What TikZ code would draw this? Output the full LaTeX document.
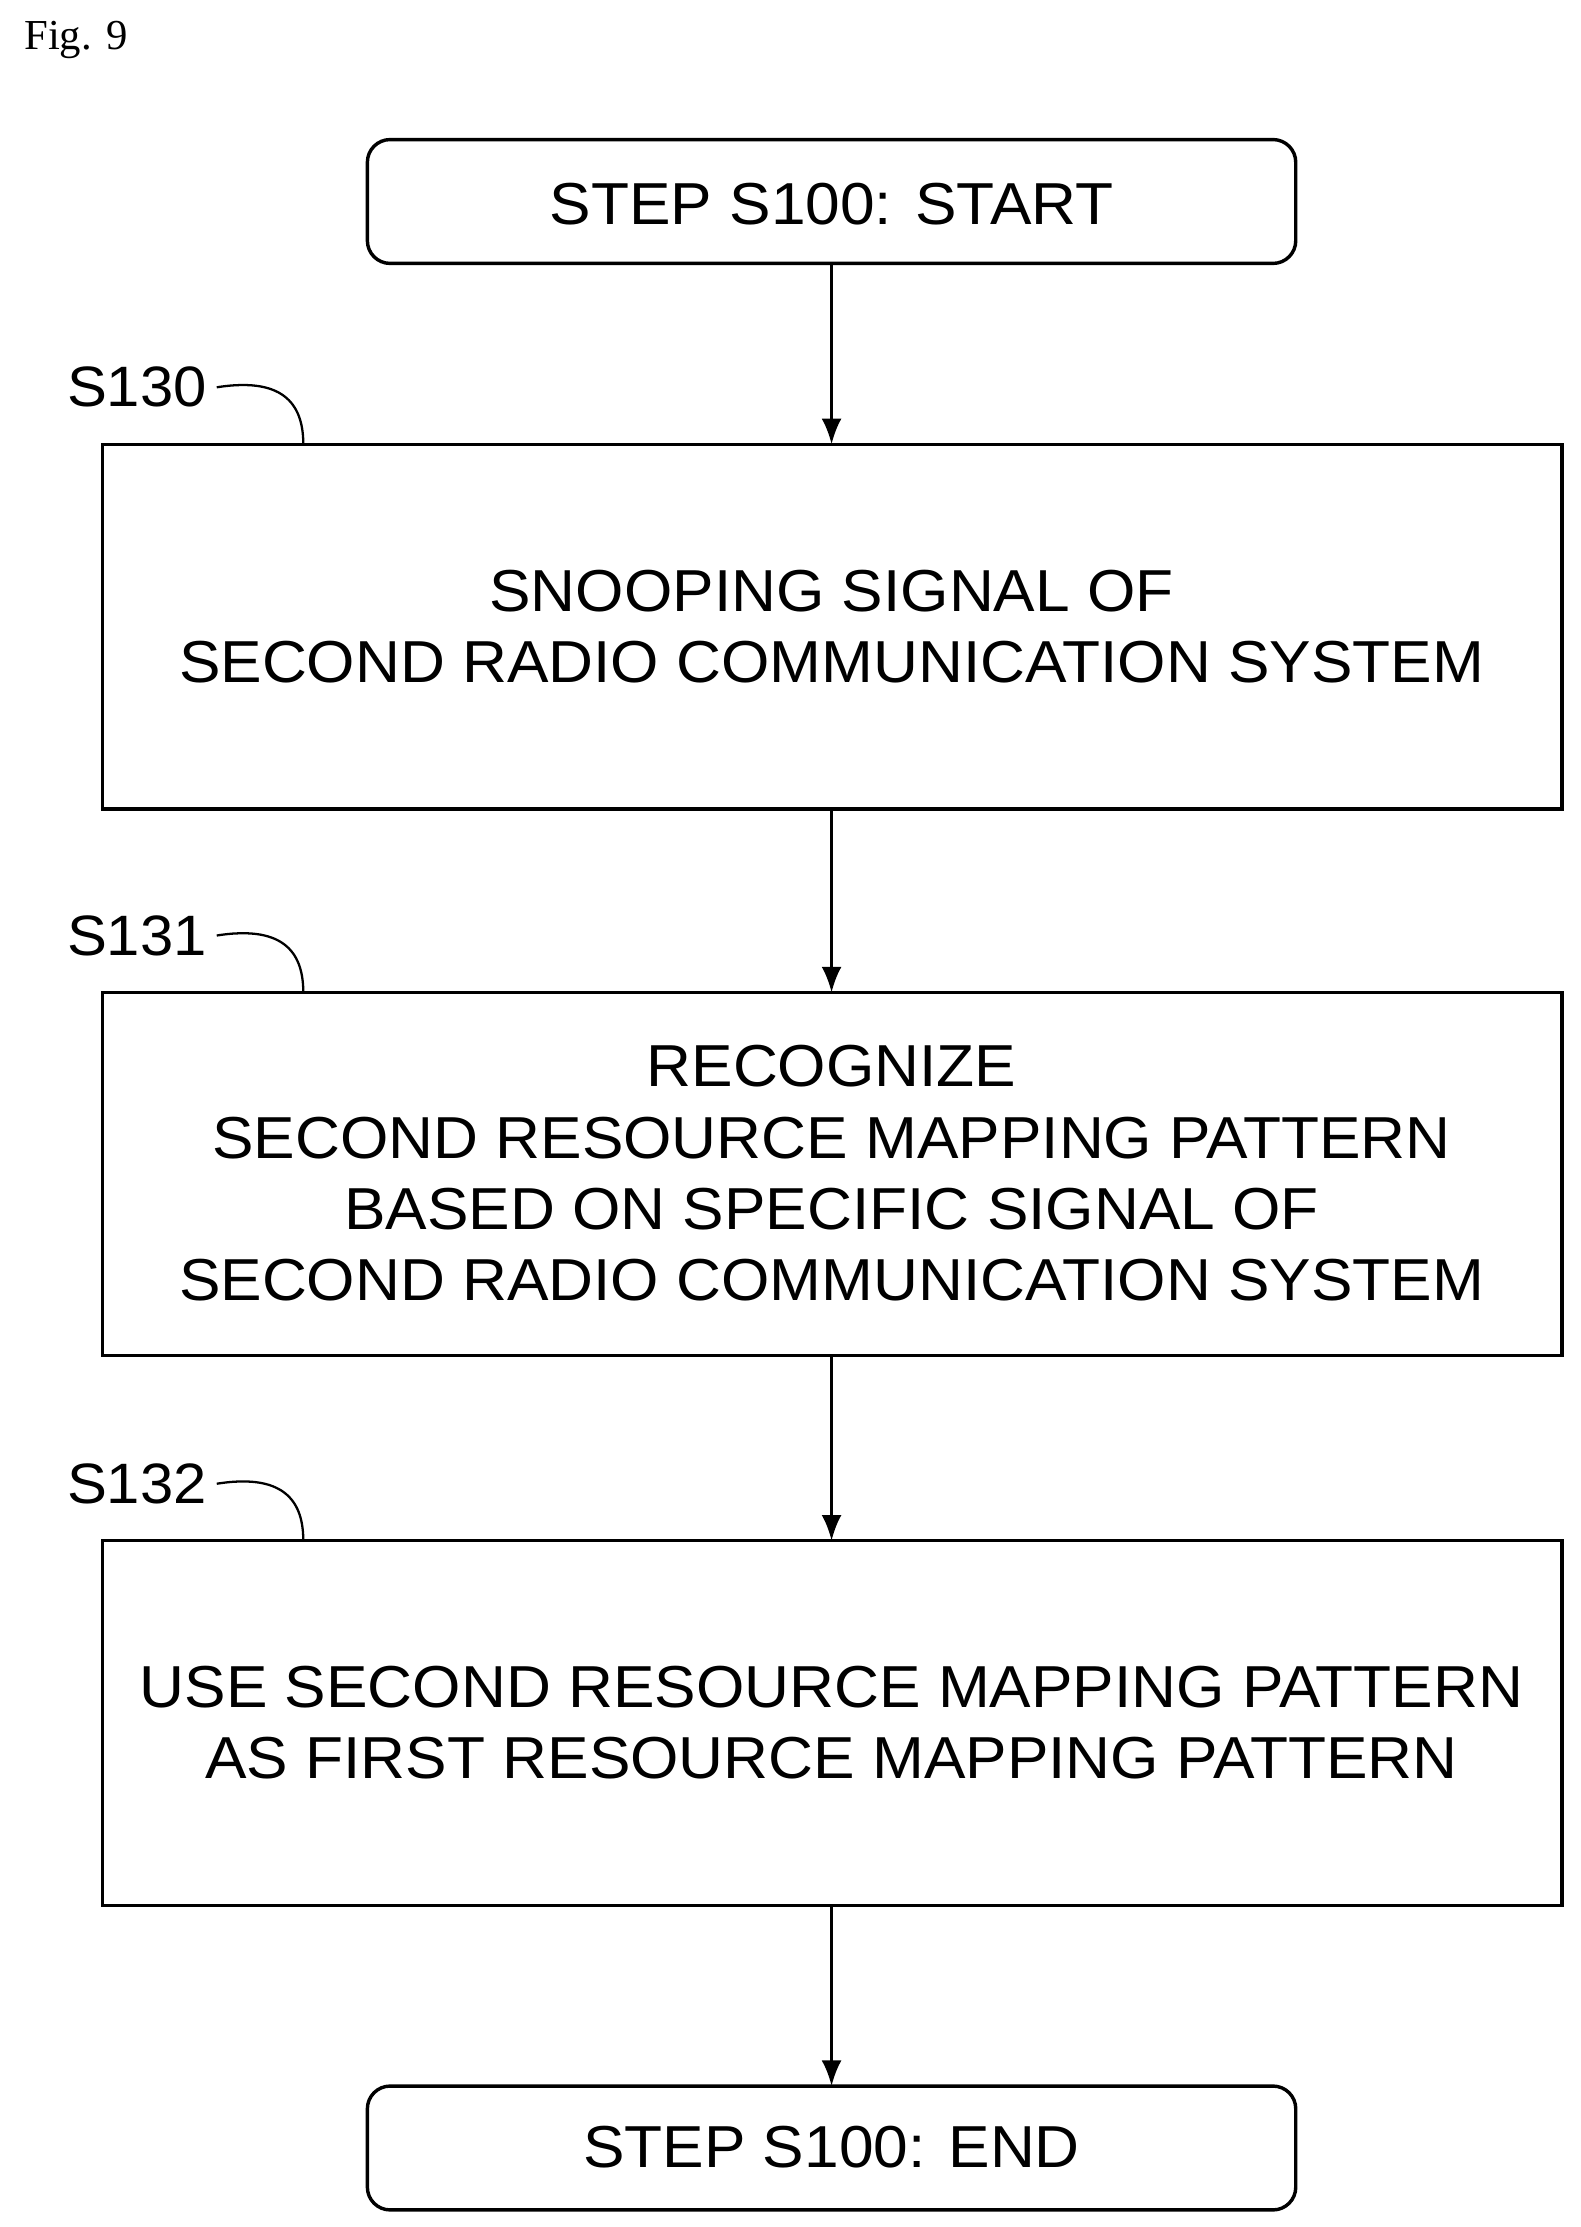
\documentclass[tikz,border=0pt]{standalone}
\usepackage{fontspec}
\usetikzlibrary{arrows.meta}
\setmainfont{Liberation Sans}[FakeStretch=1.05]
\newfontfamily\figfont{Liberation Serif}
\begin{document}
\begin{tikzpicture}[x=0.5pt,y=-0.5pt,
  box/.style={draw,line width=1.2pt},
  rbox/.style={draw,line width=1.2pt,rounded corners=8pt},
  txt/.style={font=\fontsize{20.8}{25}\selectfont,align=center},
  lab/.style={font=\fontsize{20}{24}\selectfont,anchor=west},
  arr/.style={-{Latex[length=9pt,width=7pt]},line width=1pt},
  lead/.style={line width=0.8pt}]
\useasboundingbox (0,0) rectangle (1110,1564);
\node[font=\figfont\fontsize{15}{17}\selectfont,anchor=west] (fig) at (10,28) {Fig. 9};
\draw[rbox] (258,98) rectangle (910,185);
\node[txt] (start) at (584,143) {STEP S100: START};
\draw[box] (72,312) rectangle (1097,568);
\node[txt] (b1) at (584,440) {SNOOPING SIGNAL OF\\SECOND RADIO COMMUNICATION SYSTEM};
\draw[box] (72,697) rectangle (1097,952);
\node[txt] (b2) at (584,824) {RECOGNIZE\\SECOND RESOURCE MAPPING PATTERN\\BASED ON SPECIFIC SIGNAL OF\\SECOND RADIO COMMUNICATION SYSTEM};
\draw[box] (72,1082) rectangle (1097,1338);
\node[txt] (b3) at (584,1210) {USE SECOND RESOURCE MAPPING PATTERN\\AS FIRST RESOURCE MAPPING PATTERN};
\draw[rbox] (258,1465) rectangle (910,1552);
\node[txt] (end) at (584,1508) {STEP S100: END};
\coordinate (a0) at (584,185); \coordinate (a1) at (584,312);
\coordinate (a2) at (584,568); \coordinate (a3) at (584,697);
\coordinate (a4) at (584,952); \coordinate (a5) at (584,1082);
\coordinate (a6) at (584,1338); \coordinate (a7) at (584,1465);
\draw[arr] (a0) -- (a1);
\draw[arr] (a2) -- (a3);
\draw[arr] (a4) -- (a5);
\draw[arr] (a6) -- (a7);
\foreach \n/\y in {S130/272,S131/657,S132/1042}{
  \node[lab] (\n) at (40,\y) {\n};
  \draw[lead] (\n.east) .. controls +(50,-8) and +(0,-25) .. (213,\y+40);
}
\end{tikzpicture}
\end{document}
